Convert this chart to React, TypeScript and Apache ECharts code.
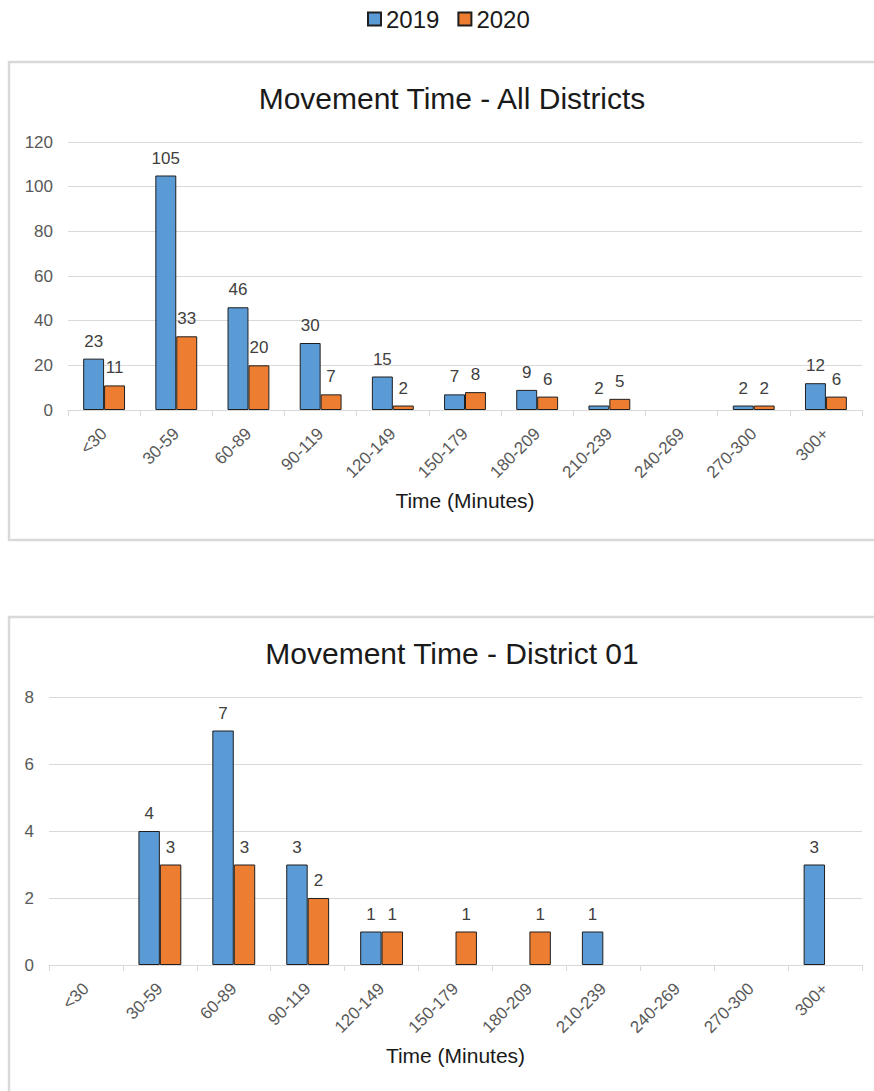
import React, { useEffect, useRef } from "react";
import * as echarts from "echarts";

const categories = ["<30", "30-59", "60-89", "90-119", "120-149", "150-179", "180-209", "210-239", "240-269", "270-300", "300+"];
const allDistricts2019 = [23, 105, 46, 30, 15, 7, 9, 2, null, 2, 12];
const allDistricts2020 = [11, 33, 20, 7, 2, 8, 6, 5, null, 2, 6];
const district01_2019 = [null, 4, 7, 3, 1, null, null, 1, null, null, 3];
const district01_2020 = [null, 3, 3, 2, 1, 1, 1, null, null, null, null];
const yTicksAll = { min: 0, max: 120, interval: 20 };
const yTicksD01 = { min: 0, max: 8, interval: 2 };

const FONT = "'Liberation Sans', Arial, sans-serif";
const BLUE = "#5b9bd5";
const ORANGE = "#ed7d31";

export default function App() {
  const ref = useRef<HTMLDivElement>(null);
  useEffect(() => {
    if (!ref.current) return;
    const chart = echarts.init(ref.current, null, { renderer: "svg" });
    const xAxisBase = (gridIndex: number) => ({
      type: "category",
      gridIndex,
      data: categories,
      boundaryGap: true,
      axisLine: { show: true, lineStyle: { color: "#d9d9d9", width: 1 } },
      axisTick: { show: true, length: 6, lineStyle: { color: "#d9d9d9" } },
      axisLabel: { interval: 0, rotate: 45, margin: 21, fontSize: 17, color: "#595959", fontFamily: FONT },
      name: "Time (Minutes)",
      nameLocation: "middle",
      nameGap: 80,
      nameTextStyle: { fontSize: 21, color: "#1a1a1a", fontFamily: FONT },
    });
    const yAxisBase = (gridIndex: number, t: { min: number; max: number; interval: number }) => ({
      type: "value",
      gridIndex,
      min: t.min,
      max: t.max,
      interval: t.interval,
      axisLine: { show: false },
      axisTick: { show: false },
      splitLine: { show: true, lineStyle: { color: "#d9d9d9", width: 1 } },
      axisLabel: { margin: 15, fontSize: 17, color: "#595959", fontFamily: FONT },
    });
    const label = {
      show: true,
      position: "top",
      distance: 9,
      fontSize: 17,
      color: "#404040",
      fontFamily: FONT,
    };
    const bar = (name: string, data: (number | null)[], color: string, idx: number) => ({
      type: "bar",
      name,
      xAxisIndex: idx,
      yAxisIndex: idx,
      data,
      barGap: "0%",
      barCategoryGap: "42%",
      itemStyle: { color, borderColor: "#1f1f1f", borderWidth: 1 },
      label,
    });
    chart.setOption({
      animation: false,
      backgroundColor: "#ffffff",
      textStyle: { fontFamily: FONT },
      legend: {
        data: ["2019", "2020"],
        top: 2,
        left: 362,
        icon: "rect",
        itemWidth: 13,
        itemHeight: 13,
        itemGap: 18,
        textStyle: { fontSize: 24, color: "#1a1a1a", fontFamily: FONT },
      },
      title: [
        {
          text: "Movement Time - All Districts",
          left: 447,
          textAlign: "center",
          top: 78,
          textStyle: { fontSize: 30, fontWeight: "normal", color: "#1a1a1a", fontFamily: FONT },
        },
        {
          text: "Movement Time - District 01",
          left: 447,
          textAlign: "center",
          top: 633,
          textStyle: { fontSize: 30, fontWeight: "normal", color: "#1a1a1a", fontFamily: FONT },
        },
      ],
      graphic: [
        {
          type: "rect",
          shape: { x: 9, y: 62, width: 880, height: 478 },
          style: { fill: "none", stroke: "#d9d9d9", lineWidth: 2.5 },
          silent: true,
          z: -1,
        },
        {
          type: "rect",
          shape: { x: 9, y: 617, width: 880, height: 500 },
          style: { fill: "none", stroke: "#d9d9d9", lineWidth: 2.5 },
          silent: true,
          z: -1,
        },
      ],
      grid: [
        { left: 68, right: 12, top: 142, height: 268 },
        { left: 49, right: 12, top: 697, height: 268 },
      ],
      xAxis: [xAxisBase(0), xAxisBase(1)],
      yAxis: [yAxisBase(0, yTicksAll), yAxisBase(1, yTicksD01)],
      series: [
        bar("2019", allDistricts2019, BLUE, 0),
        bar("2020", allDistricts2020, ORANGE, 0),
        bar("2019", district01_2019, BLUE, 1),
        bar("2020", district01_2020, ORANGE, 1),
      ],
    });
    return () => chart.dispose();
  }, []);
  return (
    <div
      ref={ref}
      style={{ position: "absolute", left: 0, top: 0, width: 874, height: 1091, background: "#fff" }}
    />
  );
}
